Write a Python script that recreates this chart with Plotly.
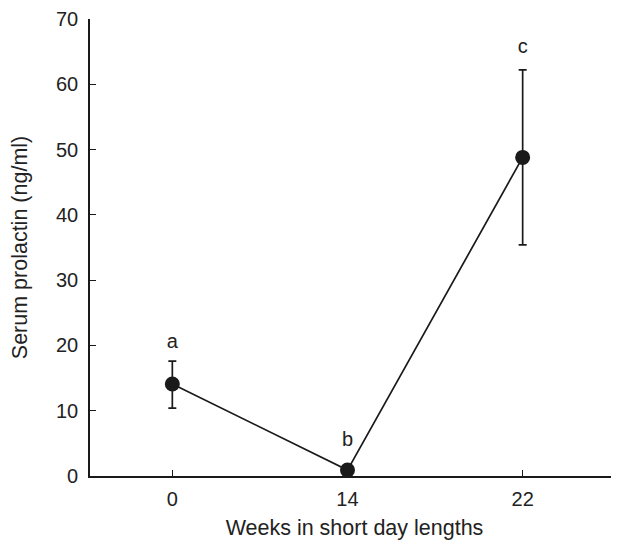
import plotly.graph_objects as go

weeks = ["0", "14", "22"]
prolactin = [14.1, 0.9, 48.8]
err_upper = [17.6 - 14.1, 0.0, 62.2 - 48.8]
err_lower = [14.1 - 10.4, 0.0, 48.8 - 35.4]
letters = ["a", "b", "c"]
letter_y = [20.3, 5.3, 65.6]

xpos = list(range(len(weeks)))
ink = "#1a1a1a"
fam = "Liberation Sans, Arial, sans-serif"

fig = go.Figure()
fig.add_trace(go.Scatter(
    x=xpos, y=prolactin, mode="lines+markers",
    line=dict(color=ink, width=1.7),
    marker=dict(color=ink, size=15),
    error_y=dict(type="data", symmetric=False, array=err_upper, arrayminus=err_lower,
                 color=ink, thickness=1.7, width=4),
    cliponaxis=False, showlegend=False,
))
fig.add_trace(go.Scatter(
    x=xpos, y=letter_y, mode="text", text=letters,
    textfont=dict(size=20, color="#222222", family=fam),
    showlegend=False, cliponaxis=False,
))

fig.update_layout(
    width=611, height=534,
    margin=dict(l=82, r=0, t=11, b=66),
    paper_bgcolor="white", plot_bgcolor="white",
    font=dict(family=fam, size=20, color="#222222"),
    xaxis=dict(
        range=[-0.47, 2.55], tickvals=xpos, ticktext=weeks,
        showline=True, linecolor=ink, linewidth=1.6,
        ticks="inside", ticklen=6, tickcolor=ink, tickwidth=1.2,
        ticklabelstandoff=4,
        showgrid=False, zeroline=False,
        title=dict(text="Weeks in short day lengths", font=dict(size=21.5), standoff=11),
    ),
    yaxis=dict(
        range=[0, 70], dtick=10,
        showline=True, linecolor=ink, linewidth=1.6,
        ticks="inside", ticklen=6, tickcolor=ink, tickwidth=1.2,
        ticklabelstandoff=6,
        showgrid=False, zeroline=False,
        title=dict(text="Serum prolactin (ng/ml)", font=dict(size=21.5), standoff=24),
    ),
)

fig.write_html("out.html")
